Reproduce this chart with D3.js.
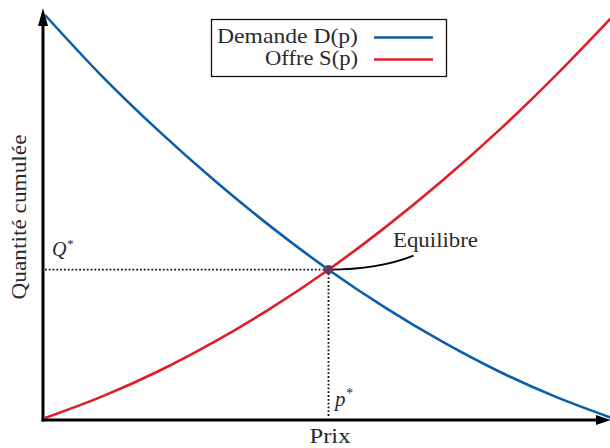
<!DOCTYPE html>
<html>
<head>
<meta charset="utf-8">
<title>Offre et demande</title>
<script src="https://cdn.jsdelivr.net/npm/d3@7"></script>
<style>
body { margin: 0; background: #fff; }
text { font-family: "Liberation Serif", "DejaVu Serif", serif; fill: #2a2a2a; }
</style>
</head>
<body>
<div id="chart"></div>
<script>
// prix (axe horizontal)
var prix = [0, 1, 2, 3, 4, 5, 6, 7, 8, 9, 10];
// demande D(p)
var demande = [10, 8.49, 7.13, 5.88, 4.73, 3.68, 2.74, 1.9, 1.16, 0.53, 0];
// offre S(p)
var offre = [0, 0.53, 1.16, 1.9, 2.74, 3.68, 4.73, 5.88, 7.13, 8.49, 9.95];
// point d'equilibre
var pEq = 5, qEq = 3.68;

var width = 610, height = 448;

var x = d3.scaleLinear().domain([0, 10]).range([45, 612]);
var y = d3.scaleLinear().domain([0, 10]).range([418, 15]);

var svg = d3.select("#chart").append("svg")
    .attr("width", width)
    .attr("height", height);

/* pointillés */
svg.append("line")
    .attr("x1", x(0)).attr("x2", x(pEq))
    .attr("y1", y(qEq)).attr("y2", y(qEq))
    .style("stroke", "#111").style("stroke-width", 1.8)
    .style("stroke-dasharray", "1.8,2");
svg.append("line")
    .attr("x1", x(pEq)).attr("x2", x(pEq))
    .attr("y1", y(qEq)).attr("y2", y(0))
    .style("stroke", "#111").style("stroke-width", 1.8)
    .style("stroke-dasharray", "1.8,2");

/* courbes */
var line = d3.line().curve(d3.curveMonotoneX);
svg.append("path")
    .attr("d", line(prix.map(function(p, i) { return [x(p), y(demande[i])]; })))
    .style("fill", "none").style("stroke", "#0b5fa8").style("stroke-width", 2.6);
svg.append("path")
    .attr("d", line(prix.map(function(p, i) { return [x(p), y(offre[i])]; })))
    .style("fill", "none").style("stroke", "#e11d27").style("stroke-width", 2.6);

/* axes */
var ox = 43, oy = 420;
svg.append("line").attr("x1", ox).attr("x2", ox).attr("y1", oy + 1.5).attr("y2", 22)
    .style("stroke", "#000").style("stroke-width", 3);
svg.append("path").attr("d", "M" + ox + ",8 L" + (ox - 5) + ",26 L" + (ox + 5) + ",26 Z")
    .style("fill", "#000");
svg.append("line").attr("x1", ox - 1.5).attr("x2", 598).attr("y1", oy).attr("y2", oy)
    .style("stroke", "#000").style("stroke-width", 3);
svg.append("path").attr("d", "M611," + oy + " L596," + (oy - 5) + " L596," + (oy + 5) + " Z")
    .style("fill", "#000");

/* annotation */
svg.append("path")
    .attr("d", "M" + x(pEq) + "," + y(qEq) + " Q" + (x(pEq) + 50) + "," + y(qEq) + " " + (x(pEq) + 85) + "," + (y(qEq) - 14))
    .style("fill", "none").style("stroke", "#000").style("stroke-width", 1.8);
svg.append("circle")
    .attr("cx", x(pEq)).attr("cy", y(qEq)).attr("r", 4.8)
    .style("fill", "#6b3560");
svg.append("text").attr("x", 393).attr("y", 247).style("font-size", "21px")
    .attr("textLength", 85).attr("lengthAdjust", "spacingAndGlyphs").text("Equilibre");

/* labels */
svg.append("text").attr("x", 52).attr("y", 256)
    .style("font-size", "20px").style("font-style", "italic").text("Q")
    .append("tspan").attr("dy", -8).style("font-size", "13px").text("*");
svg.append("text").attr("x", 335).attr("y", 406)
    .style("font-size", "21px").style("font-style", "italic").text("p")
    .append("tspan").attr("dy", -8).style("font-size", "14px").text("*");
svg.append("text").attr("x", 330).attr("y", 443).attr("text-anchor", "middle")
    .style("font-size", "21px").attr("textLength", 41).attr("lengthAdjust", "spacingAndGlyphs").text("Prix");
svg.append("text").attr("transform", "translate(26,217) rotate(-90)")
    .attr("text-anchor", "middle").style("font-size", "21px")
    .attr("textLength", 165).attr("lengthAdjust", "spacingAndGlyphs").text("Quantité cumulée");

/* légende */
var leg = svg.append("g");
leg.append("rect").attr("x", 211.5).attr("y", 19.5).attr("width", 235).attr("height", 57)
    .style("fill", "#fff").style("stroke", "#111").style("stroke-width", 1.3);
var series = [["Demande D(p)", "#0b5fa8", 141], ["Offre S(p)", "#e11d27", 93]];
series.forEach(function(s, i) {
    leg.append("text").attr("x", 358).attr("y", 43 + i * 22).attr("text-anchor", "end")
        .style("font-size", "21px")
        .attr("textLength", s[2]).attr("lengthAdjust", "spacingAndGlyphs").text(s[0]);
    leg.append("line").attr("x1", 374).attr("x2", 433)
        .attr("y1", 37.5 + i * 22).attr("y2", 37.5 + i * 22)
        .style("stroke", s[1]).style("stroke-width", 2.6);
});
</script>
</body>
</html>
